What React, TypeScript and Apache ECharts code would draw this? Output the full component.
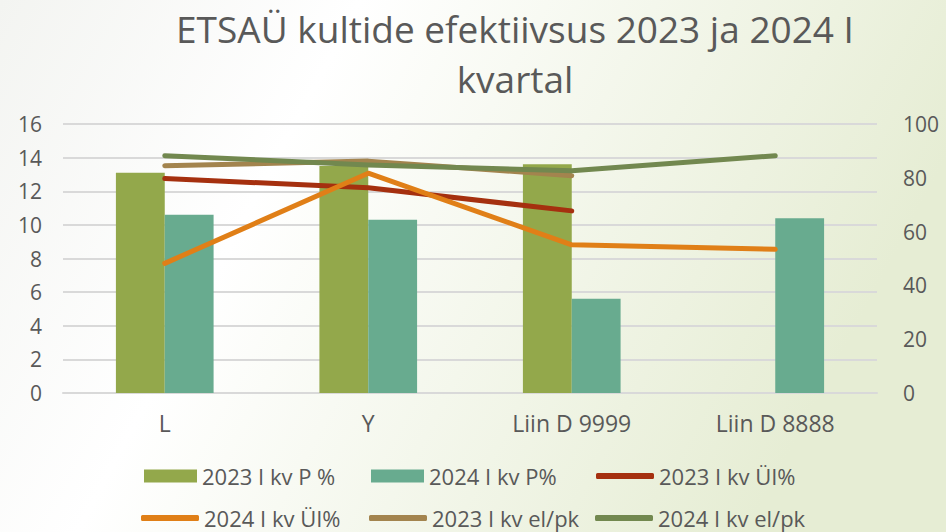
import React, { useEffect, useRef } from "react";
import * as echarts from "echarts";

const categories = ["L", "Y", "Liin D 9999", "Liin D 8888"];
const p2023 = [13.1, 13.5, 13.6, null];
const p2024 = [10.6, 10.3, 5.6, 10.4];
const ui2023 = [79.7, 76.3, 67.7, null];
const ui2024 = [48.2, 81.7, 55.1, 53.4];
const elpk2023 = [84.5, 86.2, 80.8, null];
const elpk2024 = [88.2, 84.8, 82.6, 88.2];
const titleLines = ["ETSAÜ kultide efektiivsus 2023 ja 2024 I", "kvartal"];

const FONT = "'Open Sans', 'DejaVu Sans', sans-serif";
const GREY = "#595959";

export default function App() {
  const ref = useRef<HTMLDivElement>(null);
  useEffect(() => {
    if (!ref.current) return;
    const chart = echarts.init(ref.current, undefined, { renderer: "svg" });
    const lineSeries = (name: string, data: (number | null)[], color: string) => ({
      name,
      type: "line",
      yAxisIndex: 1,
      data,
      symbol: "none",
      showSymbol: false,
      lineStyle: { color, width: 5, cap: "round", join: "round" },
      itemStyle: { color },
      connectNulls: false,
    });
    const legendItem = (name: string, left: number, centerY: number, isBar: boolean) => ({
      show: true,
      left,
      top: centerY - 13,
      padding: 0,
      data: [name],
      icon: isBar ? "rect" : "roundRect",
      itemWidth: isBar ? 53 : 58,
      itemHeight: isBar ? 13 : 6,
      itemGap: 4,
      textStyle: { color: GREY, fontSize: 22, fontFamily: FONT, lineHeight: 26 },
    });
    const titleItem = (text: string, top: number) => ({
      text,
      left: 515,
      top,
      padding: 0,
      textAlign: "center",
      textStyle: {
        color: GREY,
        fontSize: 37,
        fontWeight: "normal",
        fontFamily: FONT,
        lineHeight: 42,
      },
    });
    chart.setOption({
      animation: false,
      backgroundColor: {
        type: "linear",
        x: 0,
        y: 0,
        x2: 1,
        y2: 0.3,
        colorStops: [
          { offset: 0, color: "#F3F4F1" },
          { offset: 0.35, color: "#FFFFFF" },
          { offset: 1, color: "#E6EDD4" },
        ],
      },
      title: [titleItem(titleLines[0], 7), titleItem(titleLines[1], 57)],
      legend: [
        legendItem("2023 I kv P %", 144, 476, true),
        legendItem("2024 I kv P%", 371, 476, true),
        legendItem("2023 I kv ÜI%", 596, 476, false),
        legendItem("2024 I kv ÜI%", 141, 518, false),
        legendItem("2023 I kv el/pk", 369, 518, false),
        legendItem("2024 I kv el/pk", 595, 518, false),
      ],
      grid: { left: 63, right: 69, top: 124, bottom: 139 },
      xAxis: {
        type: "category",
        data: categories,
        axisTick: { show: false },
        axisLine: { show: true, lineStyle: { color: "#D9D9D9", width: 2 } },
        axisLabel: { color: GREY, fontSize: 23, fontFamily: FONT, margin: 18 },
      },
      yAxis: [
        {
          type: "value",
          min: 0,
          max: 16,
          interval: 2,
          axisLine: { show: false },
          axisTick: { show: false },
          splitLine: { lineStyle: { color: "#D9D9D9", width: 2 } },
          axisLabel: { color: GREY, fontSize: 21, fontFamily: FONT, margin: 21 },
        },
        {
          type: "value",
          min: 0,
          max: 100,
          interval: 20,
          axisLine: { show: false },
          axisTick: { show: false },
          splitLine: { show: false },
          axisLabel: { color: GREY, fontSize: 21, fontFamily: FONT, margin: 26 },
        },
      ],
      series: [
        {
          name: "2023 I kv P %",
          type: "bar",
          data: p2023,
          itemStyle: { color: "#93A84B" },
          barGap: "0%",
          barCategoryGap: "52%",
        },
        {
          name: "2024 I kv P%",
          type: "bar",
          data: p2024,
          itemStyle: { color: "#68AB8F" },
          barGap: "0%",
          barCategoryGap: "52%",
        },
        lineSeries("2023 I kv ÜI%", ui2023, "#A5300F"),
        lineSeries("2024 I kv ÜI%", ui2024, "#E07F17"),
        lineSeries("2023 I kv el/pk", elpk2023, "#A3844E"),
        lineSeries("2024 I kv el/pk", elpk2024, "#72884F"),
      ],
    });
    return () => chart.dispose();
  }, []);
  return <div ref={ref} style={{ width: 946, height: 532, position: "absolute", left: 0, top: 0 }} />;
}
